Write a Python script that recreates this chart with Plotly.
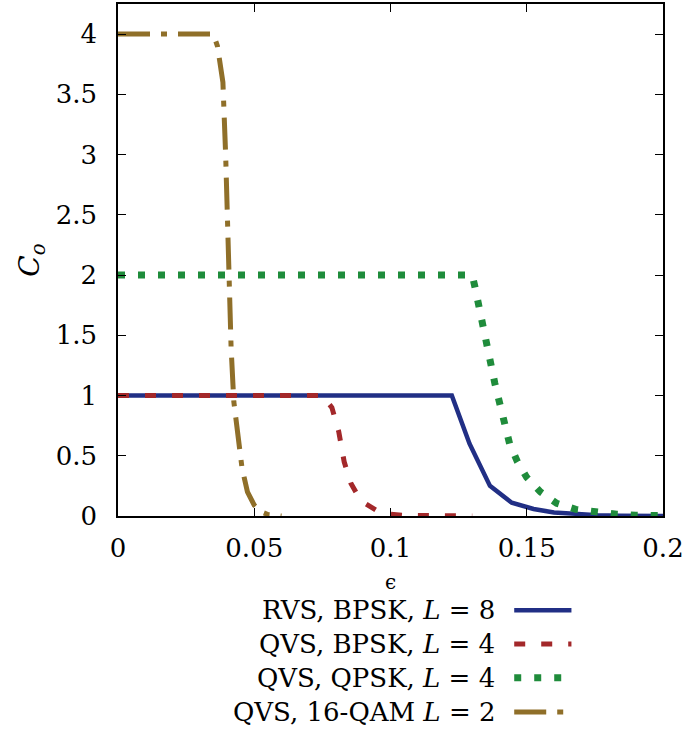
import plotly.graph_objects as go

# ---- data ----
rvs_bpsk_x = [0, 0.1225, 0.129, 0.1365, 0.1445, 0.1525, 0.16, 0.168, 0.176, 0.184, 0.192, 0.2]
rvs_bpsk_y = [1, 1, 0.6, 0.25, 0.11, 0.058, 0.03, 0.015, 0.007, 0.003, 0.001, 0.0005]

qvs_bpsk_x = [0, 0.075, 0.0785, 0.081, 0.083, 0.0855, 0.088, 0.091, 0.095, 0.1, 0.105, 0.11, 0.12, 0.13]
qvs_bpsk_y = [1, 1, 0.9, 0.7, 0.45, 0.27, 0.17, 0.1, 0.045, 0.015, 0.005, 0.002, 0.0005, 0.0]

qvs_qpsk_x = [0, 0.13, 0.131, 0.135, 0.1383, 0.141, 0.1437, 0.1466, 0.150, 0.155, 0.161,
              0.168, 0.1754, 0.183, 0.19, 0.2]
qvs_qpsk_y = [2, 2, 1.9, 1.45, 1.1, 0.85, 0.6, 0.45, 0.32, 0.2, 0.105,
              0.055, 0.028, 0.014, 0.006, 0.003]

qvs_16qam_x = [0, 0.035, 0.0365, 0.0385, 0.0395, 0.0405, 0.0415, 0.0425, 0.044, 0.0455,
               0.0475, 0.05, 0.0525, 0.055, 0.06]
qvs_16qam_y = [4, 4, 3.9, 3.6, 3.0, 2.1, 1.4, 0.95, 0.65, 0.4,
               0.2, 0.09, 0.035, 0.012, 0.0]

legend_labels = ["RVS, BPSK, <i>L</i> = 8", "QVS, BPSK, <i>L</i> = 4",
                 "QVS, QPSK, <i>L</i> = 4", "QVS, 16-QAM <i>L</i> = 2"]

x_tickvals = [0, 0.05, 0.1, 0.15, 0.2]
x_ticktext = ["0", "0.05", "0.1", "0.15", "0.2"]
y_tickvals = [0, 0.5, 1, 1.5, 2, 2.5, 3, 3.5, 4]
y_ticktext = ["0", "0.5", "1", "1.5", "2", "2.5", "3", "3.5", "4"]

# ---- styles ----
BLUE = "#212f85"
RED = "#a3282a"
GREEN = "#1f8c3b"
TAN = "#8f6f29"
FONT = "DejaVu Serif, Liberation Serif, serif"

styles = [
    dict(color=BLUE, width=4.5, dash="solid"),
    dict(color=RED, width=5, dash="11px,16px"),
    dict(color=GREEN, width=7, dash="7px,13px"),
    dict(color=TAN, width=5, dash="32px,11px,6px,11px"),
]
series = [(rvs_bpsk_x, rvs_bpsk_y), (qvs_bpsk_x, qvs_bpsk_y),
          (qvs_qpsk_x, qvs_qpsk_y), (qvs_16qam_x, qvs_16qam_y)]

fig = go.Figure()
for (xs, ys), st, lab in zip(series, styles, legend_labels):
    fig.add_trace(go.Scatter(x=xs, y=ys, mode="lines", line=st, name=lab,
                             showlegend=False))

# ---- manual legend (text left of sample, like gnuplot) ----
row_y = [-0.184, -0.250, -0.316, -0.383]
for lab, st, yy in zip(legend_labels, styles, row_y):
    fig.add_annotation(x=0.695, y=yy, xref="paper", yref="paper", text=lab,
                       showarrow=False, xanchor="right", yanchor="middle",
                       font=dict(family=FONT, size=26, color="black"))
    fig.add_shape(type="line", xref="paper", yref="paper",
                  x0=0.727, x1=0.832, y0=yy, y1=yy,
                  line=dict(color=st["color"], width=st["width"], dash=st["dash"]))

# axis titles
fig.add_annotation(x=0.5, y=-0.128, xref="paper", yref="paper", text="ϵ",
                   showarrow=False, xanchor="center", yanchor="middle",
                   font=dict(family=FONT, size=20, color="black"))
fig.add_annotation(x=-0.16, y=0.5, xref="paper", yref="paper",
                   text="<i>C</i><sub><i>o</i></sub>", textangle=-90,
                   showarrow=False, xanchor="center", yanchor="middle",
                   font=dict(family=FONT, size=28, color="black"))

axis_common = dict(showgrid=False, zeroline=False, showline=True, linecolor="black",
                   linewidth=1.5, mirror="ticks", ticks="inside", ticklen=8,
                   tickwidth=1.2, tickcolor="black", automargin=False,
                   tickfont=dict(family=FONT, size=26, color="black"))

fig.update_xaxes(range=[0, 0.2], tickvals=x_tickvals, ticktext=x_ticktext,
                 ticklabelstandoff=8, **axis_common)
fig.update_yaxes(range=[0, 4.25], tickvals=y_tickvals, ticktext=y_ticktext,
                 ticklabelstandoff=14, **axis_common)

fig.update_layout(width=684, height=734, plot_bgcolor="white", paper_bgcolor="white",
                  margin=dict(l=118, r=21, t=4, b=218, autoexpand=False), showlegend=False)

fig.write_html("out.html", config={"displayModeBar": False},
               post_script="document.body.style.margin='0';document.body.style.overflow='hidden';")
